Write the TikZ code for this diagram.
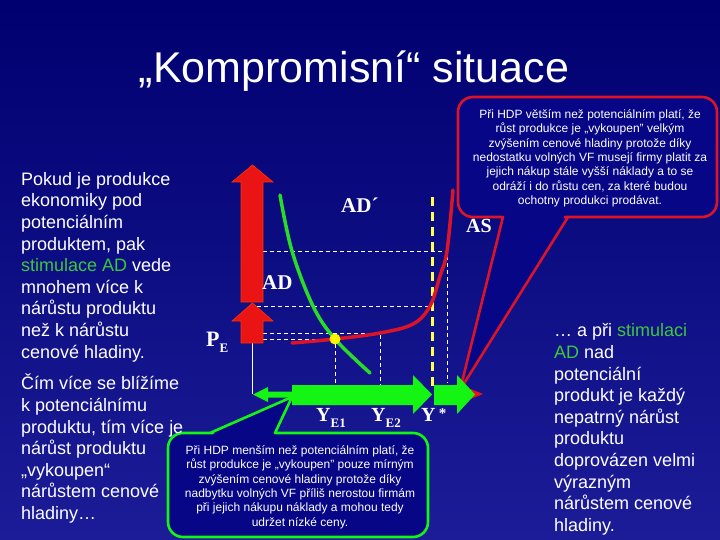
\documentclass[tikz,border=0pt]{standalone}
\usepackage{fontspec}
\setmainfont{Liberation Sans}
\newfontfamily\graffont{Liberation Serif}
\definecolor{bgtop}{RGB}{0,0,112}
\definecolor{bgbottom}{RGB}{28,28,152}
\definecolor{boxfill}{RGB}{6,6,134}
\definecolor{arrowgreen}{RGB}{20,245,20}
\definecolor{curvegreen}{RGB}{40,220,40}
\definecolor{textgreen}{RGB}{60,200,60}
\definecolor{axisred}{RGB}{235,20,20}
\definecolor{curvered}{RGB}{220,20,40}
\definecolor{dashyellow}{RGB}{255,255,80}
\tikzset{
  redarrow/.style={fill=axisred, draw=red!60!orange, line width=0.6pt},
  greenarrow/.style={fill=arrowgreen},
  guide/.style={white, line width=0.7pt, dash pattern=on 4pt off 3pt},
  curve/.style={line width=3.5pt, line cap=round},
  bigtext/.style={white, anchor=north west, inner sep=0pt, align=left, font=\fontsize{18}{21.6}\selectfont},
  notetext/.style={white, anchor=north, inner sep=0pt, align=center, font=\fontsize{12}{14.3}\selectfont},
  graflabel/.style={white, anchor=base west, inner sep=0pt, font=\graffont\bfseries\fontsize{21}{21}\selectfont},
  callout/.style={fill=boxfill, line width=2.6pt, line join=round}
}
\begin{document}
\begin{tikzpicture}[x=1pt,y=-1pt]
\shade[top color=bgtop, bottom color=bgbottom] (0,0) rectangle (720,540);
\useasboundingbox (0,0) rectangle (720,540);

\node[white, anchor=base, inner sep=0pt, font=\fontsize{43}{43}\selectfont] (title) at (354,83) {„Kompromisní“ situace};

\coordinate (E1) at (335,339);
\coordinate (E2) at (380,333);
\draw[guide] (263,251) -- (447,251) -- (447,383);
\draw[guide] (257,306) -- (430,306);
\draw[guide] (263,333) -- (E2) -- (380,385);
\draw[guide] (263,339) -- (E1) -- (335,385);
\draw[dashyellow, line width=3pt, dash pattern=on 9pt off 6pt] (432,197) -- (432,390);

\draw[curve, curvegreen] plot[smooth, tension=0.6] coordinates {(280,195) (292,251) (313,306) (335,339) (370,373)};
\draw[curve, curvered] plot[smooth, tension=0.6] coordinates {(292,343) (335,339) (380,333) (413,324) (430,306) (440,276) (447,251) (453,190)};

\draw[white, line width=0.8pt] (252.5,343) -- (252.5,394);
\filldraw[redarrow] (241,302) -- (241,182) -- (232,182) -- (252.5,165) -- (273,182) -- (263,182) -- (263,302) -- cycle;
\filldraw[redarrow] (241,343) -- (241,321) -- (232,321) -- (252.5,303) -- (273,321) -- (263,321) -- (263,343) -- cycle;

\filldraw[callout, draw=curvered] (458,160) [rounded corners=15pt] -- (458,97) -- (717,97) -- (717,217) -- (580,217) [sharp corners] -- (568,217) -- (460,390) -- (503,217) -- (491,217) [rounded corners=15pt] -- (458,217) -- cycle;
\fill[axisred] (468,388) -- (483,394) -- (468,400) -- cycle;
\filldraw[callout, draw=arrowgreen] (168,480) [rounded corners=15pt] -- (168,433) -- (198,433) [sharp corners] -- (210,433) -- (292,397) -- (275,433) -- (287,433) [rounded corners=15pt] -- (428,433) -- (428,537) -- (168,537) -- cycle;

\fill[greenarrow] (253,394.5) -- (268,387) -- (268,391.5) -- (293,391.5) -- (293,397.5) -- (268,397.5) -- (268,402) -- cycle;
\fill[greenarrow] (292,385) -- (413,385) -- (413,375) -- (432,394.5) -- (413,414) -- (413,405) -- (292,405) -- cycle;
\fill[greenarrow] (434,385) -- (457,385) -- (457,375) -- (475,394.5) -- (457,414) -- (457,405) -- (434,405) -- cycle;
\fill[yellow] (E1) circle[radius=5.5];

\node[graflabel] (adprime) at (341,212.5) {AD´};
\node[graflabel] (ad) at (262,289) {AD};
\node[graflabel, font=\graffont\bfseries\fontsize{20}{20}\selectfont] (as) at (466,233) {AS};
\node[graflabel, font=\graffont\bfseries\fontsize{22}{22}\selectfont] (pe) at (206,346.5) {P\raisebox{-6pt}{\fontsize{13}{13}\selectfont E}};
\node[graflabel, font=\graffont\bfseries\fontsize{20}{20}\selectfont] (ye1) at (316,421.5) {Y\raisebox{-6pt}{\fontsize{13}{13}\selectfont E1}};
\node[graflabel, font=\graffont\bfseries\fontsize{20}{20}\selectfont] (ye2) at (371,421.5) {Y\raisebox{-6pt}{\fontsize{13}{13}\selectfont E2}};
\node[graflabel, font=\graffont\bfseries\fontsize{20}{20}\selectfont] (ystar) at (421,421.5) {Y\,\raisebox{3pt}{\fontsize{15}{15}\selectfont*}};

\node[bigtext] (pokud) at (21,172) {Pokud je produkce\\ekonomiky pod\\potenciálním\\produktem, pak\\\textcolor{textgreen}{stimulace AD} vede\\mnohem více k\\nárůstu produktu\\než k nárůstu\\cenové hladiny.};
\node[bigtext] (cim) at (21,374) {Čím více se blížíme\\k potenciálnímu\\produktu, tím více je\\nárůst produktu\\„vykoupen“\\nárůstem cenové\\hladiny…};
\node[bigtext] (pri) at (554,323.5) {… a při \textcolor{textgreen}{stimulaci}\\\textcolor{textgreen}{AD} nad\\potenciální\\produkt je každý\\nepatrný nárůst\\produktu\\doprovázen velmi\\výrazným\\nárůstem cenové\\hladiny.};

\node[notetext] (hdpnad) at (590,109.5) {Při HDP větším než potenciálním platí, že\\růst produkce je „vykoupen" velkým\\zvýšením cenové hladiny protože díky\\nedostatku volných VF musejí firmy platit za\\jejich nákup stále vyšší náklady a to se\\odráží i do růstu cen, za které budou\\ochotny produkci prodávat.};
\node[notetext] (hdppod) at (300,445.5) {Při HDP menším než potenciálním platí, že\\růst produkce je „vykoupen" pouze mírným\\zvýšením cenové hladiny protože díky\\nadbytku volných VF příliš nerostou firmám\\při jejich nákupu náklady a mohou tedy\\udržet nízké ceny.};
\end{tikzpicture}
\end{document}
